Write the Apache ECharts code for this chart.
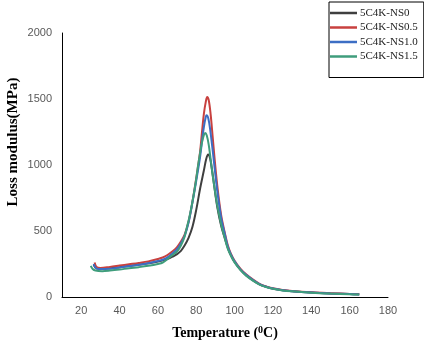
<!DOCTYPE html>
<html>
<head>
<meta charset="utf-8">
<script src="https://cdn.jsdelivr.net/npm/echarts@6/dist/echarts.min.js"></script>
<style>
html,body{margin:0;padding:0;background:#fff;}
#chart{width:424px;height:346px;}
</style>
</head>
<body>
<div id="chart"></div>
<script>
const seriesNames = ['5C4K-NS0', '5C4K-NS0.5', '5C4K-NS1.0', '5C4K-NS1.5'];
const seriesColors = ['#3f3f3f', '#c8413f', '#3c6ec4', '#3f9d7c'];

const tempNS0 = [26.5,27.5,29,35,40,45,50,55,60,65,68,70,72,74,76,78,80,82,84,85.2,86.2,87.2,88.2,89.3,91,93,95,96.5,98,100,103,106,110,113,116,120,125,130,140,150,160,165];
const lossNS0 = [245,222,215,218,226,235,244,255,268,288,308,325,350,392,448,530,660,820,960,1045,1080,1052,965,850,680,540,440,370,318,265,208,165,122,96,79,63,51,44,34,27,22,20];

const tempNS05 = [27,28,30,35,40,45,50,55,60,62.5,65,68,70,72,74,76,78,80,82,83,84,85,85.7,86.5,87.5,88.5,89.5,91,93,95,96.5,98,100,103,106,110,113,116,120,125,130,140,150,160,165];
const lossNS05 = [262,228,220,228,238,248,258,270,288,299,318,350,378,420,475,570,720,900,1100,1250,1390,1480,1515,1492,1385,1225,1060,840,620,480,390,330,275,215,172,128,100,82,66,54,46,36,29,23,20];

const tempNS10 = [26.5,27.5,29,35,40,45,50,55,60,62.5,65,68,70,72,74,76,78,80,82,83,84,85,85.4,86.3,87.3,88.5,89.5,91,93,95,96.5,98,100,103,106,110,113,116,120,125,130,140,150,160,165];
const lossNS10 = [250,222,212,214,224,234,244,256,272,282,300,335,362,405,465,565,715,880,1060,1180,1290,1365,1376,1352,1265,1120,990,800,600,470,380,325,270,210,168,125,98,80,64,52,44,34,27,22,19];

const tempNS15 = [25,26,27.5,31,35,40,45,50,55,60,62.5,66,68,70.3,72,73.8,75,76.4,78,79.6,81,82,83,84,84.7,85.5,86.5,87.5,88.5,89.5,91,93,95,96.5,98,100,103,106,110,113,116,120,125,130,140,150,160,165];
const lossNS15 = [236,212,200,196,200,208,218,226,236,250,261,299,322,350,390,451,520,603,720,857,1000,1090,1170,1228,1242,1224,1155,1045,930,830,690,550,440,365,315,262,205,162,120,94,78,62,50,43,33,26,21,18];

const xTicks = [20,40,60,80,100,120,140,160,180];
const yTicks = [0,500,1000,1500,2000];

const temps = [tempNS0, tempNS05, tempNS10, tempNS15];
const losses = [lossNS0, lossNS05, lossNS10, lossNS15];

const chart = echarts.init(document.getElementById('chart'), null, {renderer:'canvas'});
const series = seriesNames.map((name, i) => ({
  name: name,
  type: 'line',
  data: temps[i].map((t, j) => [t, losses[i][j]]),
  smooth: 0.35,
  showSymbol: false,
  symbol: 'none',
  lineStyle: {color: seriesColors[i], width: 2},
  itemStyle: {color: seriesColors[i]},
  animation: false
}));

chart.setOption({
  animation: false,
  backgroundColor: '#ffffff',
  grid: {left: 62, right: 36, top: 33, bottom: 49, containLabel: false, outerBoundsMode: 'none'},
  legend: {
    left: 329, top: 2,
    orient: 'vertical',
    data: seriesNames,
    icon: 'rect',
    itemWidth: 27, itemHeight: 2.5,
    itemGap: 2.5,
    padding: [5, 6, 15, 1],
    borderColor: '#000', borderWidth: 1,
    backgroundColor: '#fff',
    textStyle: {fontFamily: 'Liberation Serif', fontSize: 11, color: '#222', lineHeight: 12, padding: [0,0,0,-2]}
  },
  xAxis: {
    type: 'value', min: 10, max: 180,
    axisLine: {show: true, onZero: false, lineStyle: {color: '#000', width: 1}},
    axisTick: {show: false},
    splitLine: {show: false},
    axisLabel: {customValues: xTicks, fontFamily: 'Liberation Sans', fontSize: 11, color: '#595959', margin: 8},
    name: 'Temperature ({sup|0}C)',
    nameLocation: 'middle',
    nameGap: 28,
    nameTextStyle: {
      fontFamily: 'Liberation Serif', fontWeight: 'bold', fontSize: 14, color: '#000',
      rich: {sup: {fontFamily: 'Liberation Serif', fontWeight: 'bold', fontSize: 10, color: '#000', verticalAlign: 'top', padding: [0,0,7,0]}}
    }
  },
  yAxis: {
    type: 'value', min: 0, max: 2000, interval: 500,
    axisLine: {show: true, lineStyle: {color: '#000', width: 1}},
    axisTick: {show: false},
    splitLine: {show: false},
    axisLabel: {customValues: yTicks, formatter: (v) => String(v), fontFamily: 'Liberation Sans', fontSize: 11, color: '#595959', margin: 10}
  },
  graphic: [{
    type: 'text',
    x: 13, y: 142,
    rotation: Math.PI / 2,
    style: {
      text: 'Loss modulus(MPa)',
      fontFamily: 'Liberation Serif', fontWeight: 'bold', fontSize: 15, fill: '#000',
      textAlign: 'center', textVerticalAlign: 'middle'
    }
  }],
  series: series
});
</script>
</body>
</html>
